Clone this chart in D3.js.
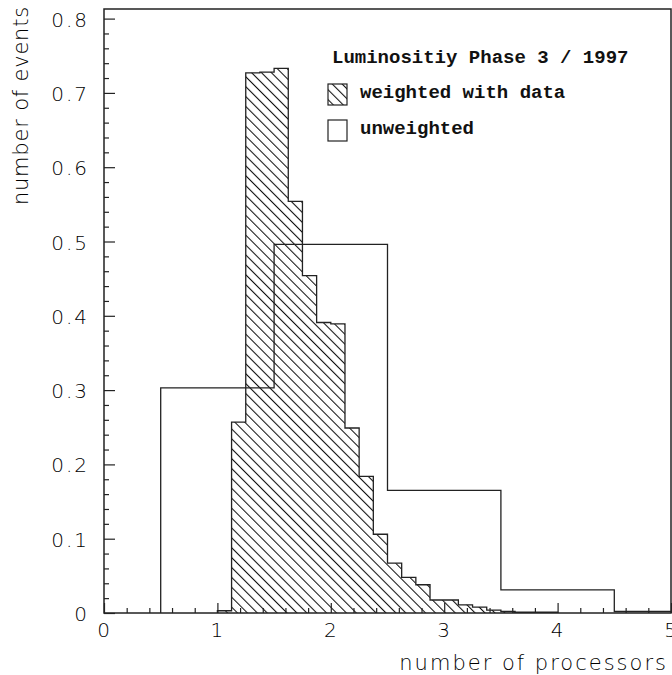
<!DOCTYPE html>
<html>
<head>
<meta charset="utf-8">
<script src="https://cdn.jsdelivr.net/npm/d3@7"></script>
<style>
  body { margin: 0; background: #fff; }
  svg { display: block; }
</style>
</head>
<body>
<div id="chart"></div>
<script>
// histogram data
const unweightedLow = [0.5, 1.5, 2.5, 3.5, 4.5];
const unweightedWidth = 1;
const unweightedValues = [0.303, 0.496, 0.165, 0.031, 0.002];

const weightedStart = 1.0;
const weightedWidth = 0.125;
const weightedValues = [
  0.003, 0.257, 0.727, 0.728, 0.733, 0.554, 0.454, 0.391,
  0.389, 0.249, 0.184, 0.106, 0.067, 0.048, 0.038, 0.0175,
  0.0175, 0.011, 0.008, 0.004, 0.002, 0.001, 0.001, 0.001
];

const xTicks = [0, 1, 2, 3, 4, 5];
const yTicks = [0, 0.1, 0.2, 0.3, 0.4, 0.5, 0.6, 0.7, 0.8];
const yTickLabels = ["0", "0.1", "0.2", "0.3", "0.4", "0.5", "0.6", "0.7", "0.8"];

const legendTitle = "Luminositiy Phase 3 / 1997";
const legendItems = ["weighted with data", "unweighted"];

const width = 672, height = 675;
const margin = { left: 104, right: 671, top: 9, bottom: 613 };

const svg = d3.select("#chart").append("svg")
  .attr("width", width)
  .attr("height", height);

const x = d3.scaleLinear().domain([0, 5]).range([margin.left, margin.right]);
const y = d3.scaleLinear().domain([0, 0.8]).range([margin.bottom, margin.bottom - 594.4]);

const defs = svg.append("defs");
const hatch = defs.append("pattern")
  .attr("id", "hatch")
  .attr("patternUnits", "userSpaceOnUse")
  .attr("width", 7)
  .attr("height", 7)
  .attr("patternTransform", "rotate(-45)");
hatch.append("rect").attr("width", 7).attr("height", 7).attr("fill", "#fff");
hatch.append("line")
  .attr("x1", 0.5).attr("y1", 0).attr("x2", 0.5).attr("y2", 7)
  .attr("stroke", "#111").attr("stroke-width", 1.1);

defs.append("clipPath").attr("id", "plotclip")
  .append("rect")
  .attr("x", margin.left).attr("y", margin.top)
  .attr("width", margin.right - margin.left).attr("height", margin.bottom - margin.top);

const line = d3.line().x(d => x(d[0])).y(d => y(d[1]));

// step outline for a histogram
function stepPoints(lows, w, values) {
  const pts = [[lows[0], 0]];
  values.forEach((v, i) => {
    pts.push([lows[i], v]);
    pts.push([lows[i] + w, v]);
  });
  pts.push([lows[lows.length - 1] + w, 0]);
  return pts;
}

const weightedLow = weightedValues.map((d, i) => weightedStart + i * weightedWidth);

const plot = svg.append("g").attr("clip-path", "url(#plotclip)");

// weighted - hatched
plot.append("path")
  .attr("d", line(stepPoints(weightedLow, weightedWidth, weightedValues)))
  .attr("fill", "url(#hatch)")
  .attr("stroke", "#222")
  .attr("stroke-width", 1.3);

// unweighted - outline only
plot.append("path")
  .attr("d", line(stepPoints(unweightedLow, unweightedWidth, unweightedValues)))
  .attr("fill", "none")
  .attr("stroke", "#222")
  .attr("stroke-width", 1.3);

// frame
svg.append("rect")
  .attr("x", margin.left).attr("y", margin.top)
  .attr("width", margin.right - margin.left).attr("height", margin.bottom - margin.top)
  .attr("fill", "none")
  .attr("stroke", "#222")
  .attr("stroke-width", 1.5);

const axisFont = "'DejaVu Sans', sans-serif";

// x axis ticks (inside)
const xAxis = d3.axisTop(x)
  .tickValues(d3.range(0, 5.001, 0.2))
  .tickSize(5)
  .tickFormat("");
const gx = svg.append("g")
  .attr("transform", `translate(0, ${margin.bottom})`)
  .call(xAxis);
gx.select(".domain").remove();
gx.selectAll(".tick line")
  .attr("stroke", "#222")
  .attr("stroke-width", 1.2)
  .attr("y2", d => Math.abs(d - Math.round(d)) < 1e-6 ? -10 : -5);

svg.append("g").selectAll("text")
  .data(xTicks)
  .join("text")
  .attr("x", d => x(d))
  .attr("y", 637)
  .attr("text-anchor", "middle")
  .style("font-family", axisFont)
  .style("font-weight", 300)
  .style("font-size", "20px")
  .style("letter-spacing", "1px")
  .attr("fill", "#000")
  .text(d => d);

// y axis ticks (inside)
const yAxis = d3.axisRight(y)
  .tickValues(d3.range(0, 0.8001, 0.02))
  .tickSize(5)
  .tickFormat("");
const gy = svg.append("g")
  .attr("transform", `translate(${margin.left}, 0)`)
  .call(yAxis);
gy.select(".domain").remove();
gy.selectAll(".tick line")
  .attr("stroke", "#222")
  .attr("stroke-width", 1.2)
  .attr("x2", d => Math.abs(d * 10 - Math.round(d * 10)) < 1e-6 ? 11 : 5);

svg.append("g").selectAll("text")
  .data(yTicks)
  .join("text")
  .attr("x", 89)
  .attr("y", d => y(d) + 8)
  .attr("text-anchor", "end")
  .style("font-family", axisFont)
  .style("font-weight", 300)
  .style("font-size", "20px")
  .style("letter-spacing", "2px")
  .attr("fill", "#000")
  .text((d, i) => yTickLabels[i]);

// axis titles
svg.append("text")
  .attr("x", 668)
  .attr("y", 670)
  .attr("text-anchor", "end")
  .style("font-family", axisFont)
  .style("font-weight", 300)
  .style("font-size", "21px")
  .style("letter-spacing", "2px")
  .attr("fill", "#000")
  .text("number of processors");

svg.append("text")
  .attr("transform", "translate(28, 6) rotate(-90)")
  .attr("text-anchor", "end")
  .style("font-family", axisFont)
  .style("font-weight", 300)
  .style("font-size", "21px")
  .style("letter-spacing", "0.8px")
  .attr("fill", "#000")
  .text("number of events");

// legend
const legendFont = "'Liberation Mono', 'Courier New', monospace";
svg.append("text")
  .attr("x", 332)
  .attr("y", 63)
  .style("font-family", legendFont)
  .style("font-weight", "bold")
  .style("font-size", "19px")
  .attr("fill", "#111")
  .text(legendTitle);

const legend = svg.append("g").selectAll("g")
  .data(legendItems)
  .join("g")
  .attr("transform", (d, i) => `translate(0, ${i * 36})`);

legend.append("rect")
  .attr("x", 328)
  .attr("y", 84)
  .attr("width", 19)
  .attr("height", 21)
  .attr("fill", (d, i) => i === 0 ? "url(#hatch)" : "#fff")
  .attr("stroke", "#222")
  .attr("stroke-width", 1.2);

legend.append("text")
  .attr("x", 360)
  .attr("y", 98)
  .style("font-family", legendFont)
  .style("font-weight", "bold")
  .style("font-size", "19px")
  .attr("fill", "#111")
  .text(d => d);
</script>
</body>
</html>
